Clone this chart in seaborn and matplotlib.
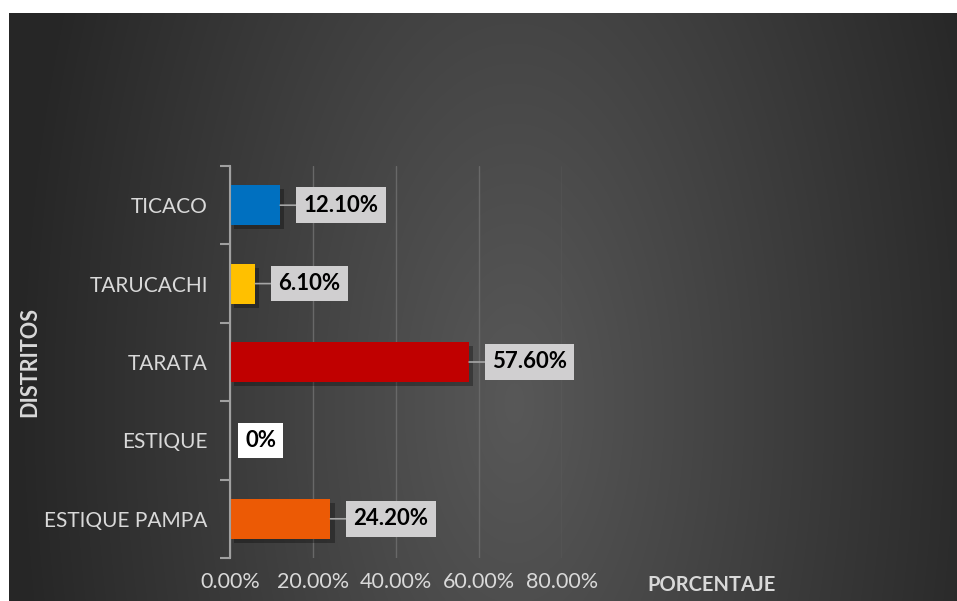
import numpy as np
import pandas as pd
import matplotlib
matplotlib.use("Agg")
import matplotlib.pyplot as plt
import matplotlib.patheffects as pe
import seaborn as sns

# Data
districts = ["TICACO", "TARUCACHI", "TARATA", "ESTIQUE", "ESTIQUE PAMPA"]
percent = [12.10, 6.10, 57.60, 0.0, 24.20]
bar_colors = ["#0070c0", "#ffc000", "#c00000", "#7f7f7f", "#ec5a05"]
x_ticks = [0, 20, 40, 60, 80]
x_tick_labels = ["0.00%", "20.00%", "40.00%", "60.00%", "80.00%"]

df = pd.DataFrame({"distrito": districts, "pct": percent})

sns.set_theme(style="white")
plt.rcParams["font.family"] = ["Lato", "DejaVu Sans"]

W, H, DPI = 957, 601, 100
fig = plt.figure(figsize=(W / DPI, H / DPI), dpi=DPI, facecolor="white")

# Dark radial background panel
bg_left, bg_top = 9, 13
bg = fig.add_axes([bg_left / W, 0, (W - bg_left) / W, (H - bg_top) / H])
bw, bh = W - bg_left, H - bg_top
yy, xx = np.mgrid[0:bh, 0:bw]
cx, cy = 505, 390
d = np.sqrt(((xx - cx) / 500.0) ** 2 + ((yy - cy) / 1000.0) ** 2)
light, dark = 0x58 / 255, 0x26 / 255
val = np.clip(light - (light - dark) * d, dark, light)
img = np.dstack([val, val, val])
bg.imshow(img, aspect="auto", extent=[0, bw, bh, 0], interpolation="bilinear")
bg.set_axis_off()

# Main plot area
ax_l, ax_r, ax_t, ax_b = 230, 562, 166, 558
ax = fig.add_axes([ax_l / W, (H - ax_b) / H, (ax_r - ax_l) / W, (ax_b - ax_t) / H])
ax.set_facecolor("none")

sns.barplot(data=df, x="pct", y="distrito", hue="distrito", palette=bar_colors,
            orient="h", width=0.51, legend=False, saturation=1, ax=ax)

for patch in ax.patches:
    patch.set_path_effects([pe.SimplePatchShadow(offset=(3, -3), shadow_rgbFace="black", alpha=0.3),
                            pe.Normal()])
    patch.set_edgecolor("none")

ax.set_xlim(0, 80)
ax.set_ylim(len(districts) - 0.5, -0.5)

ax.set_xticks(x_ticks)
ax.set_xticklabels(x_tick_labels)
ax.tick_params(axis="x", length=0, pad=10, labelsize=15.5, labelcolor="#d9d9d9")
ax.tick_params(axis="y", which="major", left=False, length=0, pad=16, labelsize=15,
               labelcolor="#d9d9d9")
ax.set_yticks(np.arange(len(districts) + 1) - 0.5, minor=True)
ax.tick_params(axis="y", which="minor", left=True, length=7, width=1.5, color="#a0a0a0",
               direction="out")

ax.grid(axis="x", color="#686868", linewidth=1)
ax.grid(axis="y", visible=False)
ax.set_axisbelow(True)
for side in ["top", "right", "bottom"]:
    ax.spines[side].set_visible(False)
ax.spines["left"].set_color("#a0a0a0")
ax.spines["left"].set_linewidth(1.5)

ax.set_xlabel("PORCENTAJE", fontsize=14.5, fontweight="bold", color="#d9d9d9")
ax.xaxis.set_label_coords((712 - ax_l) / (ax_r - ax_l), (ax_b - 585) / (ax_b - ax_t))
ax.xaxis.label.set_va("center")
ax.set_ylabel("DISTRITOS", fontsize=15.5, fontweight="bold", color="#d9d9d9")
ax.yaxis.set_label_coords((30 - ax_l) / (ax_r - ax_l), 0.5)
ax.yaxis.label.set_va("center")

# Value callouts
px = 72.0 / DPI
for i, v in enumerate(percent):
    text = f"{v:.2f}%" if v else "0%"
    if v:
        ax.annotate(text, xy=(v, i), xytext=(23 * px, 0), textcoords="offset points",
                    ha="left", va="center", fontsize=16, fontweight="bold", color="black",
                    bbox=dict(boxstyle="square,pad=0.33", fc="#d0cfd0", ec="none"),
                    arrowprops=dict(arrowstyle="-", color="#a6a6a6", lw=1.2,
                                    shrinkA=0, shrinkB=0))
    else:
        ax.annotate(text, xy=(v, i), xytext=(15 * px, 0), textcoords="offset points",
                    ha="left", va="center", fontsize=16, fontweight="bold", color="black",
                    bbox=dict(boxstyle="square,pad=0.33", fc="white", ec="none"))

fig.savefig("out.png", dpi=DPI, facecolor="white")
